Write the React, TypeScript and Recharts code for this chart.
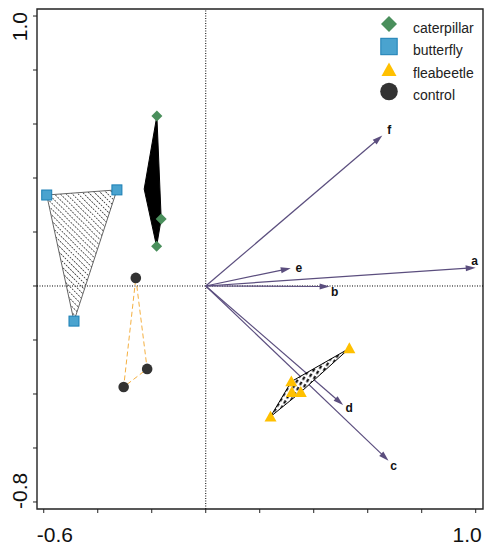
import React from "react";
import {
  ScatterChart, Scatter, XAxis, YAxis,
  ReferenceLine, ReferenceArea, Legend,
} from "recharts";

// axis ranges and ticks
const xDomain = [-0.625, 1.027];
const yDomain = [-0.826, 1.026];
const xTicks = [-0.6, -0.4, -0.2, 0, 0.2, 0.4, 0.6, 0.8, 1.0];
const yTicks = [-0.8, -0.6, -0.4, -0.2, 0, 0.2, 0.4, 0.6, 0.8, 1.0];

const groupNames = ["caterpillar", "butterfly", "fleabeetle", "control"];

// sample scores
const caterpillar = [
  { x: -0.181, y: 0.630 },
  { x: -0.165, y: 0.248 },
  { x: -0.182, y: 0.147 },
];
const butterfly = [
  { x: -0.589, y: 0.337 },
  { x: -0.329, y: 0.356 },
  { x: -0.488, y: -0.130 },
];
const fleabeetle = [
  { x: 0.532, y: -0.231 },
  { x: 0.317, y: -0.354 },
  { x: 0.319, y: -0.393 },
  { x: 0.352, y: -0.393 },
  { x: 0.240, y: -0.484 },
];
const control = [
  { x: -0.259, y: 0.030 },
  { x: -0.217, y: -0.307 },
  { x: -0.304, y: -0.374 },
];

// hull outlines (vertex order)
const caterpillarHull = [
  { x: -0.181, y: 0.630 },
  { x: -0.228, y: 0.359 },
  { x: -0.182, y: 0.147 },
  { x: -0.165, y: 0.248 },
];
const butterflyHull = butterfly;
const fleabeetleHull = [
  { x: 0.240, y: -0.484 },
  { x: 0.317, y: -0.354 },
  { x: 0.532, y: -0.231 },
  { x: 0.352, y: -0.393 },
];
const controlHull = control;

// variable arrows
const arrowNames = ["a", "b", "c", "d", "e", "f"];
const arrowX = [1.0, 0.459, 0.677, 0.509, 0.315, 0.654];
const arrowY = [0.068, -0.002, -0.647, -0.441, 0.066, 0.557];

// label offsets in px from arrow tip
const labelOffset: Record<string, [number, number]> = {
  a: [-1, -7], b: [5, 5], c: [5, 5], d: [6, 3], e: [8, 0], f: [7, -6],
};

const FONT = "Arial, 'Liberation Sans', Helvetica, sans-serif";
const ARROW = "#5b4e7e";
const GREEN = "#4a8f5c";
const BLUE = "#4aa3cf";
const BLUE_EDGE = "#1b7fb5";
const YELLOW = "#ffc000";
const DARK = "#333333";

const Diamond = ({ cx, cy, r = 5.5 }: any) => (
  <polygon points={`${cx},${cy - r} ${cx + r},${cy} ${cx},${cy + r} ${cx - r},${cy}`} fill={GREEN} />
);
const Square = ({ cx, cy, r = 5 }: any) => (
  <rect x={cx - r} y={cy - r} width={2 * r} height={2 * r} fill={BLUE} stroke={BLUE_EDGE} strokeWidth={1} />
);
const Tri = ({ cx, cy, r = 6 }: any) => (
  <polygon points={`${cx},${cy - r} ${cx + r},${cy + r * 0.8} ${cx - r},${cy + r * 0.8}`} fill={YELLOW} />
);
const Dot = ({ cx, cy, r = 5.3 }: any) => <circle cx={cx} cy={cy} r={r} fill={DARK} />;

const noMark = () => <g />;

const toPts = (points: any[]) => points.map((p) => `${p.x},${p.y}`).join(" ");

const caterpillarPoly = (p: any) => (
  <polygon points={toPts(p.points)} fill="#000" stroke="#000" strokeWidth={1} />
);
const butterflyPoly = (p: any) => (
  <g>
    <defs>
      <pattern id="hatchB" patternUnits="userSpaceOnUse" width={4.2} height={6} patternTransform="rotate(-45)">
        <line x1={2.1} y1={0} x2={2.1} y2={6} stroke="#333" strokeWidth={0.8} strokeDasharray="2 1" />
      </pattern>
    </defs>
    <polygon points={toPts(p.points)} fill="url(#hatchB)" stroke="#555" strokeWidth={0.9} />
  </g>
);
const fleabeetlePoly = (p: any) => (
  <g>
    <defs>
      <pattern id="hatchF" patternUnits="userSpaceOnUse" width={4.5} height={6} patternTransform="rotate(30)">
        <rect width={4.5} height={6} fill="#fff" />
        <line x1={2.2} y1={0} x2={2.2} y2={6} stroke="#000" strokeWidth={2} strokeDasharray="3.5 2.5" />
      </pattern>
    </defs>
    <polygon points={toPts(p.points)} fill="url(#hatchF)" stroke="#000" strokeWidth={1} />
  </g>
);
const controlPoly = (p: any) => (
  <polygon points={toPts(p.points)} fill="none" stroke="#f5b041" strokeWidth={1} strokeDasharray="5 3" />
);

function Arrow(props: any) {
  const { x1, y1, x2, y2, name } = props;
  const a = Math.atan2(y2 - y1, x2 - x1);
  const c = Math.cos(a);
  const s = Math.sin(a);
  const L = 10;
  const W = 3;
  const bx = x2 - L * c;
  const by = y2 - L * s;
  const [dx, dy] = labelOffset[name];
  return (
    <g>
      <line x1={x1} y1={y1} x2={bx + 2 * c} y2={by + 2 * s} stroke={ARROW} strokeWidth={1.2} />
      <polygon points={`${x2},${y2} ${bx - W * s},${by + W * c} ${bx + W * s},${by - W * c}`} fill={ARROW} />
      <text x={x2 + dx} y={y2 + dy} textAnchor="middle" dominantBaseline="central"
        fontSize={12} fontWeight="bold" fontFamily={FONT} fill="#111">{name}</text>
    </g>
  );
}

const XTick = ({ x, y, payload }: any) => {
  const v = payload.value;
  const first = v === xTicks[0];
  const last = v === xTicks[xTicks.length - 1];
  if (!first && !last) return <g />;
  return (
    <text x={first ? x - 7 : x + 6} y={y + 27} textAnchor={first ? "start" : "end"}
      fontSize={21} fontFamily={FONT} fill="#111">{v.toFixed(1)}</text>
  );
};

const YTick = ({ x, y, payload }: any) => {
  const v = payload.value;
  const first = v === yTicks[0];
  const last = v === yTicks[yTicks.length - 1];
  if (!first && !last) return <g />;
  const bx = x - 4;
  const by = last ? y - 4 : y + 7;
  return (
    <text x={bx} y={by} transform={`rotate(-90 ${bx} ${by})`} textAnchor={last ? "end" : "start"}
      fontSize={21} fontFamily={FONT} fill="#111">{v.toFixed(1)}</text>
  );
};

const legendMarks = [
  (cx: number, cy: number) => <Diamond cx={cx} cy={cy} r={8} />,
  (cx: number, cy: number) => <Square cx={cx} cy={cy} r={8.2} />,
  (cx: number, cy: number) => <Tri cx={cx} cy={cy + 1} r={7.5} />,
  (cx: number, cy: number) => <Dot cx={cx} cy={cy} r={8.8} />,
];

const LegendBox = () => (
  <svg width={120} height={100} style={{ display: "block" }}>
    {groupNames.map((g, i) => (
      <g key={g}>
        {legendMarks[i](19, 14 + i * 22.5)}
        <text x={43} y={22.5 + i * 22.5} fontSize={14} fontFamily={FONT} fill="#222">{g}</text>
      </g>
    ))}
  </svg>
);

export default function App() {
  return (
    <div style={{ position: "absolute", left: 0, top: 0, background: "#fff" }}>
      <ScatterChart width={494} height={550} margin={{ top: 9, right: 11, bottom: 0, left: 0 }}>
        <XAxis type="number" dataKey="x" domain={xDomain} ticks={xTicks} allowDataOverflow
          axisLine={false} tickLine={{ stroke: "#222" }} tickSize={4} height={41} tick={<XTick />} />
        <YAxis type="number" dataKey="y" domain={yDomain} ticks={yTicks} allowDataOverflow
          axisLine={false} tickLine={{ stroke: "#222" }} tickSize={4} width={37} tick={<YTick />} />
        <ReferenceArea x1={xDomain[0]} x2={xDomain[1]} y1={yDomain[0]} y2={yDomain[1]}
          fill="none" stroke="#222" strokeWidth={1.4} ifOverflow="visible" />
        <ReferenceLine x={0} stroke="#000" strokeDasharray="1 1.5" />
        <ReferenceLine y={0} stroke="#000" strokeDasharray="1 1.5" />

        <Scatter data={butterflyHull} shape={noMark} line={butterflyPoly} isAnimationActive={false} />
        <Scatter data={caterpillarHull} shape={noMark} line={caterpillarPoly} isAnimationActive={false} />
        <Scatter data={controlHull} shape={noMark} line={controlPoly} isAnimationActive={false} />
        <Scatter data={fleabeetleHull} shape={noMark} line={fleabeetlePoly} isAnimationActive={false} />

        {arrowNames.map((n, i) => (
          <ReferenceLine key={n} segment={[{ x: 0, y: 0 }, { x: arrowX[i], y: arrowY[i] }]}
            stroke={ARROW} shape={(p: any) => <Arrow {...p} name={n} />} />
        ))}

        <Scatter name="caterpillar" data={caterpillar} shape={<Diamond />} isAnimationActive={false} />
        <Scatter name="butterfly" data={butterfly} shape={<Square />} isAnimationActive={false} />
        <Scatter name="fleabeetle" data={fleabeetle} shape={<Tri />} isAnimationActive={false} />
        <Scatter name="control" data={control} shape={<Dot />} isAnimationActive={false} />

        <Legend layout="vertical" align="center" verticalAlign="middle"
          wrapperStyle={{ position: "absolute", left: 370, top: 10, width: 120, height: 100 }}
          content={() => <LegendBox />} />
      </ScatterChart>
    </div>
  );
}
